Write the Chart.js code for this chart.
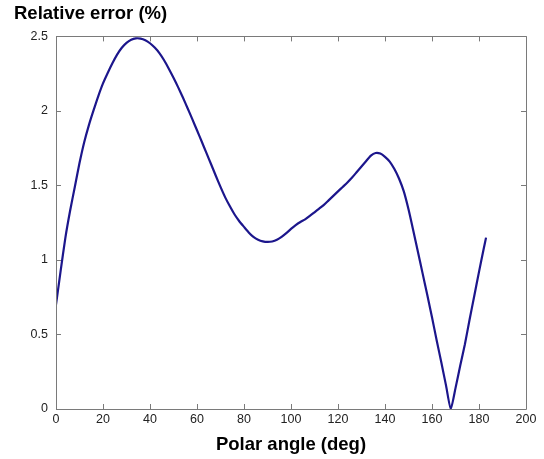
<!DOCTYPE html>
<html>
<head>
<meta charset="utf-8">
<script src="https://cdn.jsdelivr.net/npm/chart.js@4.4.1/dist/chart.umd.min.js"></script>
<style>
html,body{margin:0;padding:0;background:#fff;}
#wrap{width:544px;height:459px;}
</style>
</head>
<body>
<div id="wrap"><canvas id="c" width="544" height="459"></canvas></div>
<script>
const angles = [0,2,4,6,8,10,12,14,16,18,20,22,24,26,28,30,32,34,36,38,40,42,44,46,48,50,52,54,56,58,60,62,64,66,68,70,72,74,76,78,80,82,84,86,88,90,92,94,96,98,100,102,104,106,108,110,112,114,116,118,120,122,124,126,128,130,132,134,136,138,140,142,144,146,148,150,152,154,156,158,160,162,164,166,168,170,172,174,176,178,180,182,183];
const errors = [0.70,0.93,1.15,1.33,1.49,1.65,1.79,1.905,2.005,2.10,2.185,2.255,2.32,2.378,2.424,2.457,2.478,2.487,2.485,2.474,2.454,2.425,2.388,2.34,2.283,2.222,2.158,2.09,2.018,1.945,1.87,1.795,1.718,1.642,1.565,1.49,1.42,1.36,1.305,1.26,1.222,1.185,1.155,1.136,1.125,1.121,1.124,1.135,1.155,1.18,1.208,1.234,1.255,1.272,1.295,1.32,1.345,1.37,1.40,1.43,1.46,1.49,1.52,1.553,1.59,1.627,1.664,1.70,1.718,1.714,1.692,1.66,1.61,1.545,1.46,1.34,1.20,1.055,0.91,0.765,0.615,0.46,0.31,0.155,0.0,0.14,0.29,0.435,0.60,0.76,0.92,1.075,1.15];
const xTicks = [0,20,40,60,80,100,120,140,160,180,200];
const yTicks = [0,0.5,1,1.5,2,2.5];
const titleText = 'Relative error (%)';
const xTitleText = 'Polar angle (deg)';

const pts = angles.map((a,i)=>({x:a,y:errors[i]}));

const frameColor = '#7a7a7a';
const innerTicks = {
  id:'innerTicks',
  afterDatasetsDraw(chart){
    const {ctx, chartArea:a, scales:{x,y}} = chart;
    ctx.save();
    ctx.strokeStyle = frameColor;
    ctx.lineWidth = 1;
    ctx.beginPath();
    ctx.rect(Math.round(a.left)+0.5, Math.round(a.top)+0.5, Math.round(a.right-a.left), Math.round(a.bottom-a.top));
    const L=5;
    x.ticks.forEach(t=>{
      const px = Math.round(x.getPixelForValue(t.value))+0.5;
      ctx.moveTo(px,a.bottom); ctx.lineTo(px,a.bottom-L);
      ctx.moveTo(px,a.top); ctx.lineTo(px,a.top+L);
    });
    y.ticks.forEach(t=>{
      const py = Math.round(y.getPixelForValue(t.value))+0.5;
      ctx.moveTo(a.left,py); ctx.lineTo(a.left+L,py);
      ctx.moveTo(a.right,py); ctx.lineTo(a.right-L,py);
    });
    ctx.stroke();
    ctx.restore();
  }
};

new Chart(document.getElementById('c'),{
  type:'line',
  data:{datasets:[{data:pts,borderColor:'#1c168c',borderWidth:2.2,pointRadius:0,tension:0.2,fill:false}]},
  options:{
    responsive:false,animation:false,
    layout:{padding:{left:14,right:18,top:0,bottom:0}},
    plugins:{
      legend:{display:false},tooltip:{enabled:false},
      title:{display:true,text:titleText,align:'start',color:'#000',
        font:{family:'Liberation Sans, Arial, sans-serif',size:18.5,weight:'bold'},
        padding:{top:3,bottom:11.2}}
    },
    scales:{
      x:{type:'linear',min:0,max:200,
        afterBuildTicks(s){s.ticks=xTicks.map(v=>({value:v}));},
        afterFit(s){s.height=50;},
        grid:{display:true,drawOnChartArea:false,drawTicks:false,color:frameColor},
        border:{display:false},
        ticks:{padding:3,color:'#222',maxRotation:0,font:{family:'Liberation Sans, Arial, sans-serif',size:12.5}},
        title:{display:true,text:xTitleText,color:'#000',padding:{top:0,bottom:3},
          font:{family:'Liberation Sans, Arial, sans-serif',size:18.5,weight:'bold'}}
      },
      y:{type:'linear',min:0,max:2.5,
        afterBuildTicks(s){s.ticks=yTicks.map(v=>({value:v}));},
        afterFit(s){s.width=42;},
        grid:{display:true,drawOnChartArea:false,drawTicks:false,color:frameColor},
        border:{display:false},
        ticks:{padding:8,color:'#222',callback:(v)=>String(v),font:{family:'Liberation Sans, Arial, sans-serif',size:12.5}}
      }
    }
  },
  plugins:[innerTicks]
});
</script>
</body>
</html>
